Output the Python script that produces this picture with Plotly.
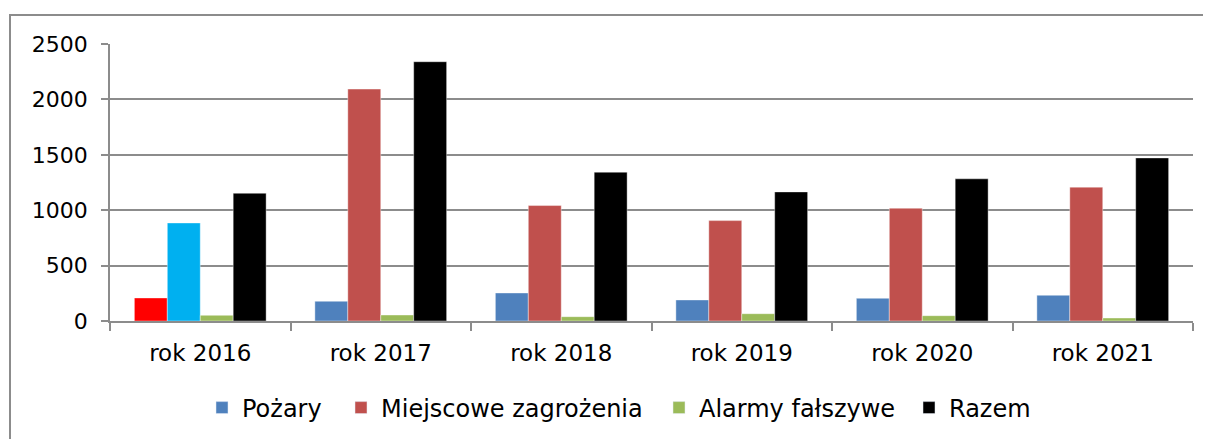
import plotly.graph_objects as go

categories = ["rok 2016", "rok 2017", "rok 2018", "rok 2019", "rok 2020", "rok 2021"]
series_names = ["Pożary", "Miejscowe zagrożenia", "Alarmy fałszywe", "Razem"]
pozary = [208, 178, 253, 190, 205, 232]
miejscowe = [885, 2093, 1042, 906, 1018, 1208]
alarmy = [51, 54, 39, 66, 48, 27]
razem = [1153, 2340, 1343, 1165, 1283, 1472]
y_ticks = [0, 500, 1000, 1500, 2000, 2500]

base_colors = ["#4F81BD", "#C0504D", "#9BBB59", "#000000"]
# the first category uses different colours for the first two series
pozary_colors = ["#FF0000"] + [base_colors[0]] * 5
miejscowe_colors = ["#00B0F0"] + [base_colors[1]] * 5

FONT = "DejaVu Sans"
# page body has an 8px default margin, so the figure is 8px smaller than the window
OFF = 8
W, H = 1211 - OFF, 439 - OFF
L, R, T, B = 110 - OFF, 18, 44 - OFF, 118

fig = go.Figure()
series = [
    (series_names[0], pozary, pozary_colors, base_colors[0]),
    (series_names[1], miejscowe, miejscowe_colors, base_colors[1]),
    (series_names[2], alarmy, base_colors[2], base_colors[2]),
    (series_names[3], razem, base_colors[3], base_colors[3]),
]
legend_ids = ["legend", "legend2", "legend3", "legend4"]
legend_marker_x = [222 - OFF, 361 - OFF, 679 - OFF, 929 - OFF]

for i, (name, vals, cols, legcol) in enumerate(series):
    fig.add_trace(go.Bar(
        name=name, x=categories, y=vals,
        marker=dict(color=cols, line=dict(color="rgba(255,255,255,0.4)", width=1)),
        showlegend=False,
    ))
for i, (name, vals, cols, legcol) in enumerate(series):
    # legend proxy with the series base colour, on hidden axes so it does not affect grouping
    fig.add_trace(go.Bar(
        name=name, x=[None], y=[None], xaxis="x2", yaxis="y2",
        marker=dict(color=legcol), showlegend=True, legend=legend_ids[i],
    ))

legend_layout = {}
for i, lid in enumerate(legend_ids):
    legend_layout[lid] = dict(
        orientation="h", xref="container", yref="container",
        x=(legend_marker_x[i] - 20) / W, xanchor="left",
        y=(H - (408 - OFF)) / H, yanchor="middle",
        font=dict(family=FONT, size=24, color="#000"),
        itemwidth=30, bgcolor="rgba(0,0,0,0)",
    )

plot_w = W - L - R
plot_h = H - T - B
frame_top = (H - B - (15 - OFF)) / plot_h
fig.add_shape(type="rect", xref="paper", yref="paper",
              x0=(10 - OFF - L) / plot_w, x1=1.2, y0=-1, y1=frame_top,
              line=dict(color="#8C8C8C", width=2), fillcolor="rgba(0,0,0,0)",
              layer="below")

fig.update_layout(
    width=W, height=H,
    margin=dict(l=L, r=R, t=T, b=B, pad=0),
    paper_bgcolor="white", plot_bgcolor="white",
    barmode="group", bargap=0.27, bargroupgap=0,
    font=dict(family=FONT, color="#000000"),
    xaxis=dict(showgrid=False, showline=True, linecolor="#8C8C8C", linewidth=1.5,
               ticks="outside", tickson="boundaries", ticklen=8, tickcolor="#8C8C8C",
               tickwidth=1.5, automargin=False, ticklabelstandoff=11,
               tickfont=dict(family=FONT, size=23, color="#000")),
    yaxis=dict(range=[0, 2500], tickvals=y_ticks, showgrid=True, gridcolor="#8C8C8C",
               gridwidth=1.5, showline=True, linecolor="#8C8C8C", linewidth=1.5,
               ticks="outside", ticklen=7, tickcolor="#8C8C8C", tickwidth=1.5,
               ticklabelstandoff=9, zeroline=False, automargin=False,
               tickfont=dict(family=FONT, size=22, color="#000")),
    xaxis2=dict(visible=False, overlaying="x", range=[0, 1]),
    yaxis2=dict(visible=False, overlaying="y", range=[0, 1]),
    **legend_layout,
)

fig.write_html("out.html")
